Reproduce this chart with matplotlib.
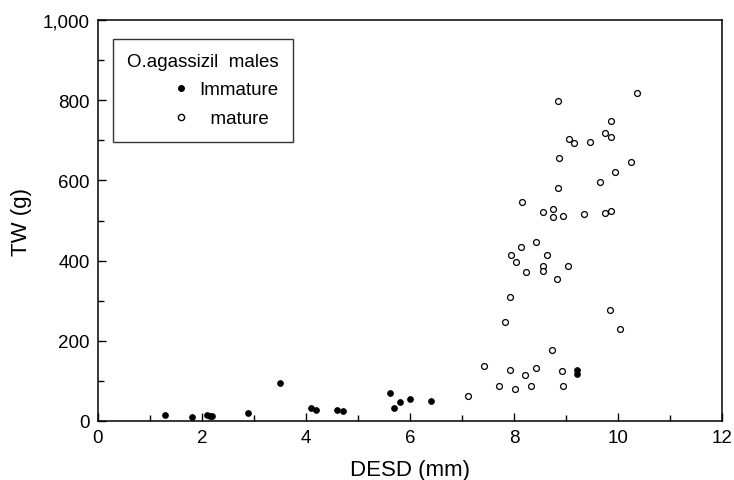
import matplotlib.pyplot as plt
from matplotlib.ticker import FuncFormatter, MultipleLocator
from matplotlib.lines import Line2D

plt.rcParams['font.family'] = ['Liberation Sans', 'DejaVu Sans']

# immature males (filled)
imm_x = [1.29, 1.80, 2.09, 2.15, 2.20, 2.89, 3.51, 4.10, 4.20, 4.60, 4.72,
         5.61, 5.69, 5.81, 6.01, 6.40, 9.22, 9.22]
imm_y = [15, 11, 15, 13, 12, 20, 94, 33, 27, 27, 25,
         69, 32, 47, 55, 50, 118, 128]

# mature males (open)
mat_x = [10.37, 8.85, 9.87, 9.06, 9.15, 9.46, 9.76, 9.87, 8.86, 10.26, 9.95,
         9.65, 8.85, 8.15, 8.55, 8.75, 8.75, 8.95, 9.35, 9.75, 9.86, 8.43,
         8.13, 7.94, 8.64, 8.04, 8.55, 8.55, 9.04, 8.23, 8.82, 7.93, 9.85,
         7.82, 10.04, 8.73, 7.42, 7.92, 8.42, 8.93, 8.22, 7.72, 8.03, 8.33,
         8.94, 7.12]
mat_y = [818, 797, 749, 703, 693, 697, 718, 708, 657, 647, 622,
         595, 580, 545, 520, 529, 509, 510, 515, 518, 524, 446,
         435, 415, 414, 396, 386, 375, 386, 371, 353, 309, 278,
         246, 230, 177, 137, 128, 133, 125, 115, 86, 81, 87,
         87, 62]

fig = plt.figure(figsize=(7.34, 4.81), dpi=100)
ax = fig.add_axes([0.1335, 0.1227, 0.85, 0.8336])

ax.scatter(imm_x, imm_y, s=16, c='black', edgecolors='black', linewidths=0.8, zorder=3)
ax.scatter(mat_x, mat_y, s=18, facecolors='white', edgecolors='black', linewidths=0.9, zorder=3)

ax.set_xlim(0, 12)
ax.set_ylim(0, 1000)
ax.xaxis.set_major_locator(MultipleLocator(2))
ax.xaxis.set_minor_locator(MultipleLocator(1))
ax.yaxis.set_major_locator(MultipleLocator(200))
ax.yaxis.set_minor_locator(MultipleLocator(100))
ax.yaxis.set_major_formatter(FuncFormatter(lambda v, p: '{:,.0f}'.format(v)))
ax.tick_params(which='both', direction='in', labelsize=13.5, width=1, pad=6)
ax.tick_params(which='major', length=6)
ax.tick_params(which='minor', length=4)
for s in ax.spines.values():
    s.set_linewidth(1.1)

ax.set_xlabel('DESD (mm)', fontsize=16, labelpad=9)
ax.set_ylabel('TW (g)', fontsize=16, labelpad=8)

handles = [
    Line2D([], [], marker='o', linestyle='none', color='black', markersize=4),
    Line2D([], [], marker='o', linestyle='none', markerfacecolor='white',
           markeredgecolor='black', markersize=4.5),
]
leg = ax.legend(handles, ['Immature', '  mature'], title='O.agassizil  males',
                loc='upper left', bbox_to_anchor=(0.024, 0.953), borderaxespad=0,
                fontsize=13.5, title_fontsize=13.5, frameon=True, fancybox=False,
                edgecolor='black', handletextpad=0.4, borderpad=0.75,
                labelspacing=0.65, handlelength=1.2)
leg.get_frame().set_linewidth(1)
leg._legend_box.align = 'right'
leg._legend_box.sep = 8

fig.savefig('out.png', dpi=100)
